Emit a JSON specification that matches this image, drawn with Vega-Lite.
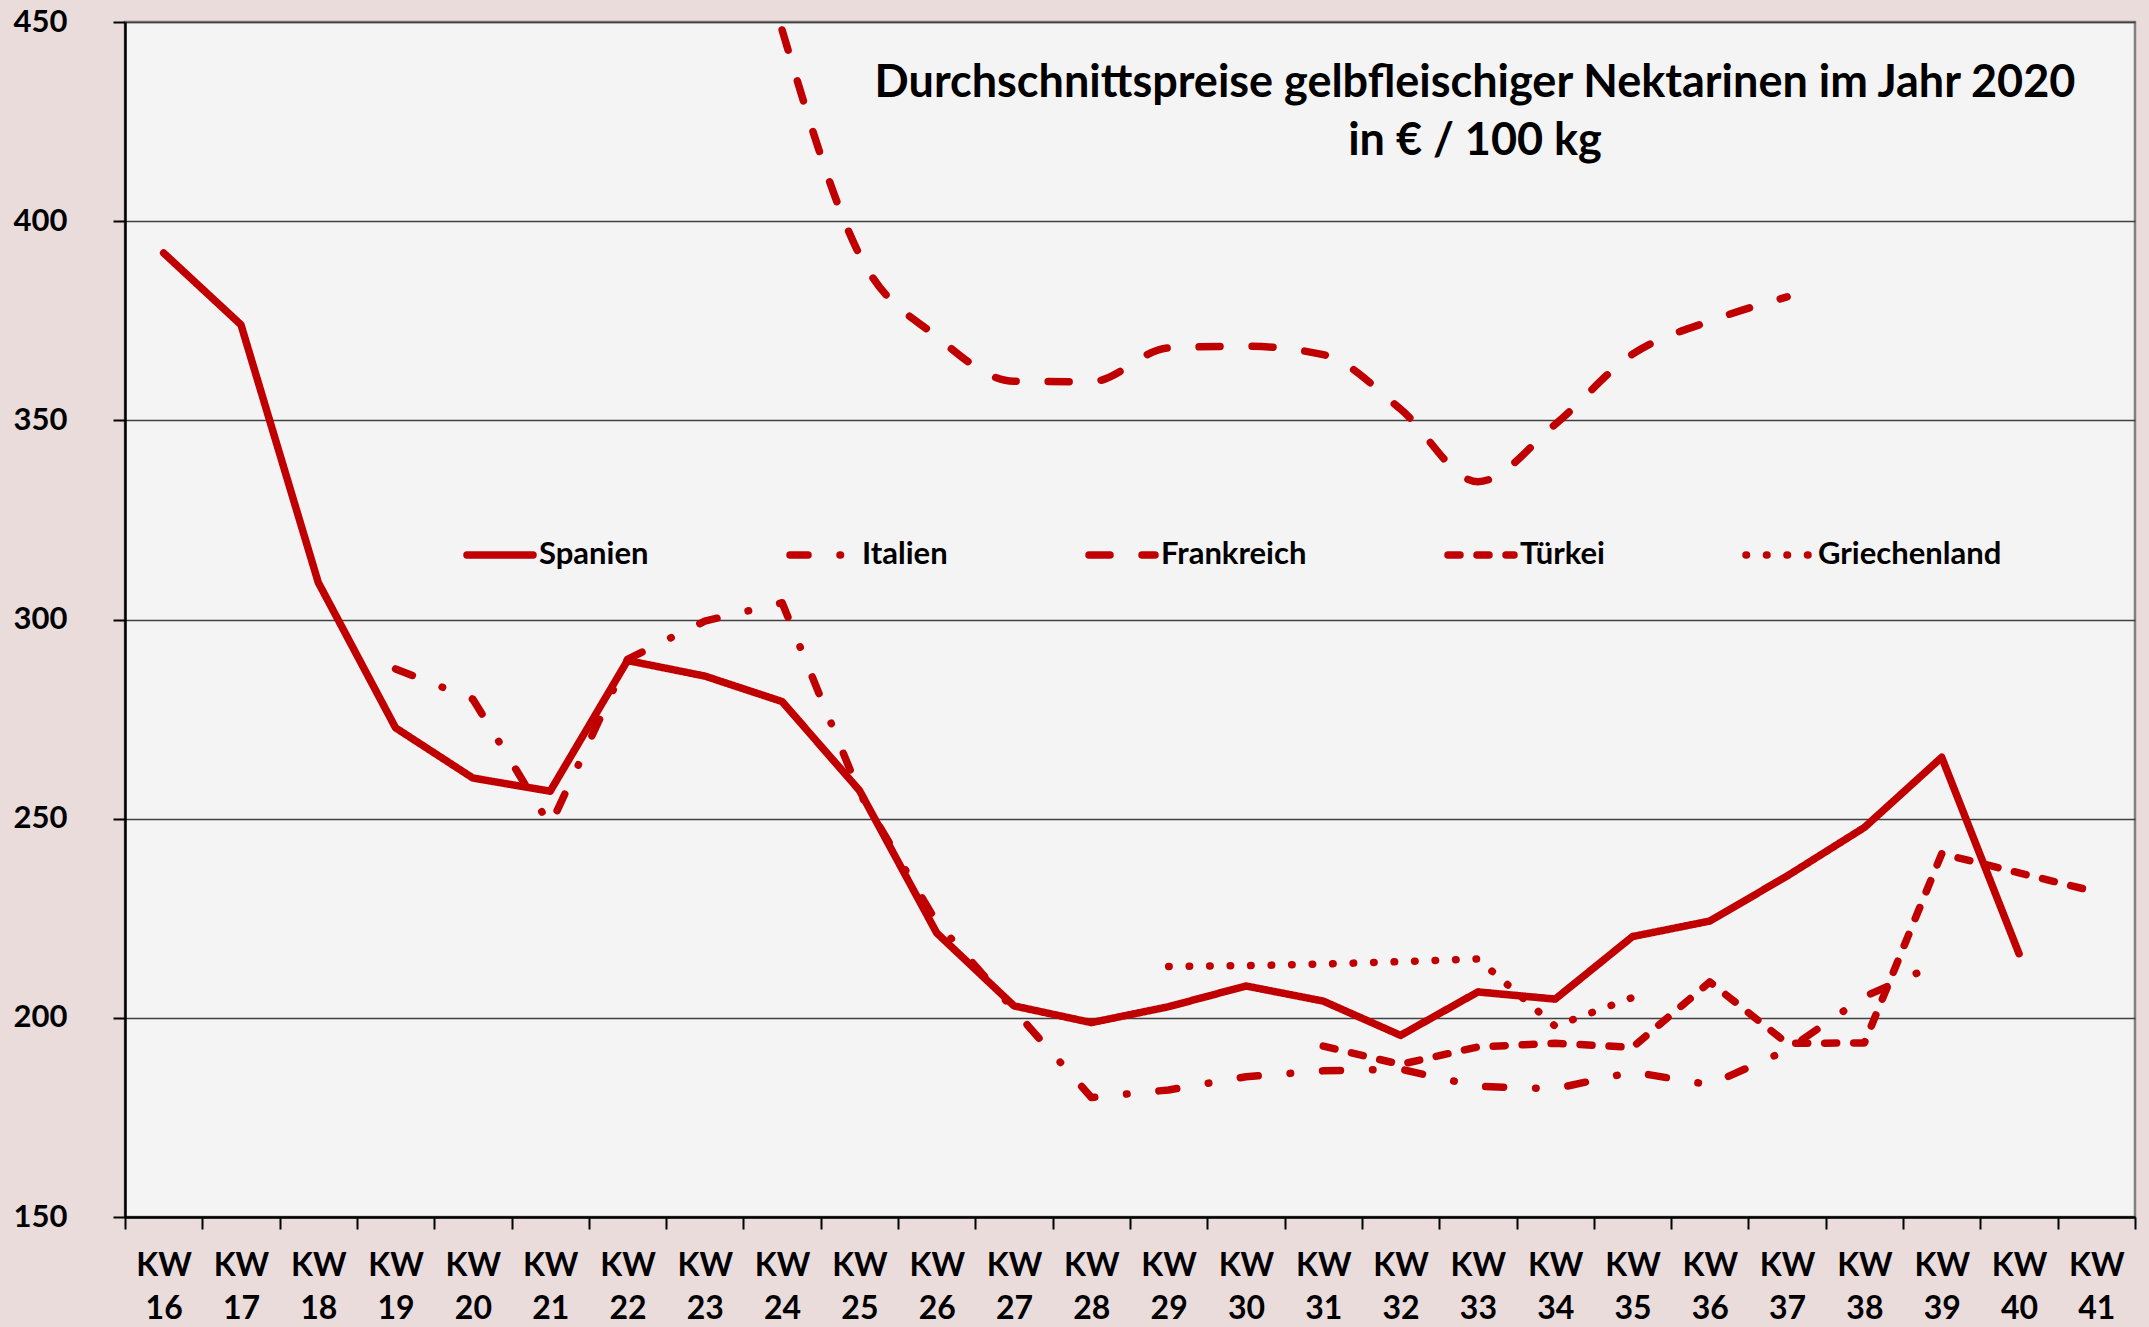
{
  "$schema": "https://vega.github.io/schema/vega-lite/v6.json",
  "width": 2010,
  "height": 1195,
  "autosize": {"type": "none"},
  "padding": {"left": 125, "top": 22, "right": 14, "bottom": 110},
  "background": "#ebdcdc",
  "title": {
    "text": ["Durchschnittspreise gelbfleischiger Nektarinen im Jahr 2020", "in € / 100 kg"],
    "anchor": "middle",
    "dx": 345,
    "dy": 162,
    "font": "Lato",
    "fontSize": 45,
    "fontWeight": "bold",
    "lineHeight": 58,
    "color": "#000000"
  },
  "config": {
    "view": {"fill": "#f5f4f4", "stroke": "#808080", "strokeWidth": 2.5},
    "axis": {
      "labelFont": "Lato",
      "labelFontWeight": "bold",
      "labelFontSize": 31,
      "labelColor": "#000000",
      "domainColor": "#000000",
      "domainWidth": 2.5,
      "tickColor": "#000000",
      "tickWidth": 2,
      "tickSize": 12,
      "title": null
    },
    "legend": {
      "labelFont": "Lato",
      "labelFontWeight": "bold",
      "labelFontSize": 31,
      "labelColor": "#000000",
      "labelLimit": 0
    }
  },
  "data": {
    "values": [
      {"kw": 16, "Land": "Spanien", "preis": 392},
      {"kw": 17, "Land": "Spanien", "preis": 374},
      {"kw": 18, "Land": "Spanien", "preis": 309.3},
      {"kw": 19, "Land": "Spanien", "preis": 272.8},
      {"kw": 20, "Land": "Spanien", "preis": 260.2},
      {"kw": 21, "Land": "Spanien", "preis": 256.9},
      {"kw": 22, "Land": "Spanien", "preis": 289.7},
      {"kw": 23, "Land": "Spanien", "preis": 285.8},
      {"kw": 24, "Land": "Spanien", "preis": 279.4},
      {"kw": 25, "Land": "Spanien", "preis": 257.1},
      {"kw": 26, "Land": "Spanien", "preis": 221.3},
      {"kw": 27, "Land": "Spanien", "preis": 203},
      {"kw": 28, "Land": "Spanien", "preis": 198.8},
      {"kw": 29, "Land": "Spanien", "preis": 202.8},
      {"kw": 30, "Land": "Spanien", "preis": 208},
      {"kw": 31, "Land": "Spanien", "preis": 204.2},
      {"kw": 32, "Land": "Spanien", "preis": 195.6},
      {"kw": 33, "Land": "Spanien", "preis": 206.5},
      {"kw": 34, "Land": "Spanien", "preis": 204.7},
      {"kw": 35, "Land": "Spanien", "preis": 220.4},
      {"kw": 36, "Land": "Spanien", "preis": 224.3},
      {"kw": 37, "Land": "Spanien", "preis": 235.6},
      {"kw": 38, "Land": "Spanien", "preis": 247.8},
      {"kw": 39, "Land": "Spanien", "preis": 265.4},
      {"kw": 40, "Land": "Spanien", "preis": 216.1},
      {"kw": 19, "Land": "Italien", "preis": 287.6},
      {"kw": 20, "Land": "Italien", "preis": 280},
      {"kw": 21, "Land": "Italien", "preis": 248.3},
      {"kw": 22, "Land": "Italien", "preis": 290},
      {"kw": 23, "Land": "Italien", "preis": 299.6},
      {"kw": 24, "Land": "Italien", "preis": 304.2},
      {"kw": 25, "Land": "Italien", "preis": 256.5},
      {"kw": 26, "Land": "Italien", "preis": 224},
      {"kw": 27, "Land": "Italien", "preis": 202},
      {"kw": 28, "Land": "Italien", "preis": 180},
      {"kw": 29, "Land": "Italien", "preis": 181.9},
      {"kw": 30, "Land": "Italien", "preis": 185.2},
      {"kw": 31, "Land": "Italien", "preis": 186.7},
      {"kw": 32, "Land": "Italien", "preis": 187.1},
      {"kw": 33, "Land": "Italien", "preis": 182.8},
      {"kw": 34, "Land": "Italien", "preis": 182.2},
      {"kw": 35, "Land": "Italien", "preis": 186.4},
      {"kw": 36, "Land": "Italien", "preis": 183.2},
      {"kw": 37, "Land": "Italien", "preis": 191.9},
      {"kw": 38, "Land": "Italien", "preis": 205.3},
      {"kw": 39, "Land": "Italien", "preis": 214},
      {"kw": 24, "Land": "Frankreich", "preis": 448},
      {"kw": 25, "Land": "Frankreich", "preis": 391.6},
      {"kw": 26, "Land": "Frankreich", "preis": 371},
      {"kw": 27, "Land": "Frankreich", "preis": 359.8},
      {"kw": 28, "Land": "Frankreich", "preis": 359.7},
      {"kw": 29, "Land": "Frankreich", "preis": 368.2},
      {"kw": 30, "Land": "Frankreich", "preis": 368.6},
      {"kw": 31, "Land": "Frankreich", "preis": 366.5},
      {"kw": 32, "Land": "Frankreich", "preis": 352.8},
      {"kw": 33, "Land": "Frankreich", "preis": 334.6},
      {"kw": 34, "Land": "Frankreich", "preis": 349},
      {"kw": 35, "Land": "Frankreich", "preis": 366.6},
      {"kw": 36, "Land": "Frankreich", "preis": 374.9},
      {"kw": 37, "Land": "Frankreich", "preis": 381},
      {"kw": 31, "Land": "Türkei", "preis": 192.9},
      {"kw": 32, "Land": "Türkei", "preis": 188.3},
      {"kw": 33, "Land": "Türkei", "preis": 192.7},
      {"kw": 34, "Land": "Türkei", "preis": 193.6},
      {"kw": 35, "Land": "Türkei", "preis": 192.6},
      {"kw": 36, "Land": "Türkei", "preis": 209},
      {"kw": 37, "Land": "Türkei", "preis": 193.6},
      {"kw": 38, "Land": "Türkei", "preis": 193.7},
      {"kw": 39, "Land": "Türkei", "preis": 241.2},
      {"kw": 40, "Land": "Türkei", "preis": 236.4},
      {"kw": 41, "Land": "Türkei", "preis": 231.6},
      {"kw": 29, "Land": "Griechenland", "preis": 212.9},
      {"kw": 30, "Land": "Griechenland", "preis": 213.1},
      {"kw": 31, "Land": "Griechenland", "preis": 213.5},
      {"kw": 32, "Land": "Griechenland", "preis": 214.1},
      {"kw": 33, "Land": "Griechenland", "preis": 214.8},
      {"kw": 34, "Land": "Griechenland", "preis": 197.9},
      {"kw": 35, "Land": "Griechenland", "preis": 205.1}
    ]
  },
  "encoding": {
    "x": {
      "field": "kw",
      "type": "ordinal",
      "bandPosition": 0.5,
      "scale": {
        "type": "band",
        "paddingInner": 0,
        "paddingOuter": 0,
        "domain": [16, 17, 18, 19, 20, 21, 22, 23, 24, 25, 26, 27, 28, 29, 30, 31, 32, 33, 34, 35, 36, 37, 38, 39, 40, 41]
      },
      "axis": {
        "labelAngle": 0,
        "labelExpr": "datum.label ? ['KW', datum.label] : ''",
        "labelFontSize": 32,
        "labelLineHeight": 43,
        "labelPadding": 21,
        "tickBand": "extent",
        "grid": false
      }
    },
    "y": {
      "field": "preis",
      "type": "quantitative",
      "scale": {"domain": [150, 450], "nice": false, "zero": false},
      "axis": {
        "values": [150, 200, 250, 300, 350, 400, 450],
        "labelPadding": 46,
        "grid": true,
        "gridColor": "#404040",
        "gridWidth": 1.5
      }
    },
    "strokeDash": {
      "field": "Land",
      "type": "nominal",
      "scale": {
        "domain": ["Spanien", "Italien", "Frankreich", "Türkei", "Griechenland"],
        "range": [[1, 0], [18, 32, 0.5, 32], [21, 32], [12, 17], [0.5, 20]]
      },
      "legend": {
        "title": null,
        "orient": "none",
        "legendX": 338,
        "legendY": 496,
        "direction": "horizontal",
        "columnPadding": 126,
        "padding": 0,
        "symbolType": "stroke",
        "symbolSize": 4356,
        "symbolStrokeWidth": 7.5,
        "symbolStrokeColor": "#c00000",
        "labelOffset": 2,
        "encode": {"symbols": {"update": {"strokeCap": {"value": "round"}}}}
      }
    }
  },
  "layer": [
    {
      "transform": [{"filter": "datum.Land !== 'Frankreich'"}],
      "mark": {"type": "line", "color": "#c00000", "strokeWidth": 7.5, "strokeCap": "round", "strokeJoin": "round"}
    },
    {
      "transform": [{"filter": "datum.Land === 'Frankreich'"}],
      "mark": {"type": "line", "color": "#c00000", "strokeWidth": 7.5, "strokeCap": "round", "strokeJoin": "round", "interpolate": "monotone"}
    }
  ]
}
